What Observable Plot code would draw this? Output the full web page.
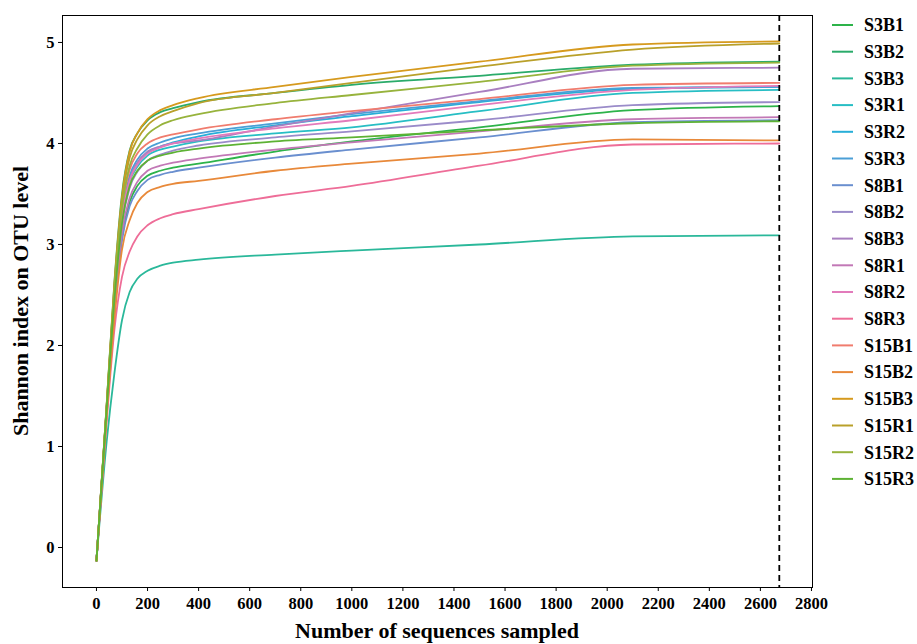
<!DOCTYPE html>
<html><head><meta charset="utf-8">
<script src="https://cdn.jsdelivr.net/npm/d3@7"></script>
<script src="https://cdn.jsdelivr.net/npm/@observablehq/plot@0.6"></script>
<style>
body{margin:0;background:#fff;}
#chart svg{font-family:"Liberation Serif","Times New Roman",serif;font-weight:bold;}
</style></head><body><div id="chart"></div>
<script>
const samples = ["S3B1","S3B2","S3B3","S3R1","S3R2","S3R3","S8B1","S8B2","S8B3","S8R1","S8R2","S8R3","S15B1","S15B2","S15B3","S15R1","S15R2","S15R3"];
const colors = ["#2db34a","#2aab6a","#2ab89a","#27bec4","#27aed8","#4b9fd6","#6a8fcf","#9a8bc9","#a97fc0","#c278b6","#e27bbb","#ee6d98","#f07c6e","#e8893a","#d69a1e","#b9a02a","#97b33c","#5db234"];
const depths = [0, 40, 70, 100, 130, 160, 200, 250, 300, 400, 700, 1000, 1500, 2100, 2674];
const maxDepth = 2674;
const xTicks = [0,200,400,600,800,1000,1200,1400,1600,1800,2000,2200,2400,2600,2800];
const yTicks = [0,1,2,3,4,5];
const xTitle = "Number of sequences sampled";
const yTitle = "Shannon index on OTU level";

const S3B1  = [-0.13, 1.33, 2.35, 3.08, 3.42, 3.58, 3.68, 3.73, 3.76, 3.80, 3.92, 4.02, 4.16, 4.33, 4.37];
const S3B2  = [-0.13, 1.42, 2.62, 3.50, 3.93, 4.10, 4.23, 4.31, 4.35, 4.41, 4.50, 4.58, 4.67, 4.78, 4.81];
const S3B3  = [-0.13, 1.05, 1.72, 2.25, 2.53, 2.66, 2.74, 2.79, 2.82, 2.85, 2.90, 2.94, 3.00, 3.08, 3.09];
const S3R1  = [-0.13, 1.38, 2.47, 3.25, 3.62, 3.77, 3.88, 3.94, 3.97, 4.02, 4.10, 4.16, 4.32, 4.50, 4.53];
const S3R2  = [-0.13, 1.38, 2.48, 3.27, 3.65, 3.80, 3.91, 3.97, 4.01, 4.07, 4.18, 4.27, 4.41, 4.54, 4.56];
const S3R3  = [-0.13, 1.39, 2.50, 3.30, 3.68, 3.84, 3.95, 4.01, 4.05, 4.10, 4.20, 4.29, 4.42, 4.55, 4.56];
const S8B1  = [-0.13, 1.32, 2.32, 3.04, 3.38, 3.53, 3.64, 3.69, 3.72, 3.76, 3.86, 3.94, 4.06, 4.21, 4.23];
const S8B2  = [-0.13, 1.36, 2.43, 3.20, 3.56, 3.72, 3.83, 3.89, 3.93, 3.98, 4.06, 4.12, 4.23, 4.38, 4.41];
const S8B3  = [-0.13, 1.38, 2.46, 3.25, 3.64, 3.81, 3.92, 3.97, 4.00, 4.03, 4.17, 4.30, 4.51, 4.74, 4.75];
const S8R1  = [-0.13, 1.34, 2.37, 3.12, 3.46, 3.62, 3.73, 3.78, 3.81, 3.85, 3.94, 4.01, 4.12, 4.24, 4.26];
const S8R2  = [-0.13, 1.38, 2.47, 3.25, 3.63, 3.79, 3.90, 3.96, 4.00, 4.05, 4.15, 4.23, 4.38, 4.53, 4.57];
const S8R3  = [-0.13, 1.25, 2.15, 2.68, 2.93, 3.08, 3.19, 3.26, 3.30, 3.35, 3.48, 3.58, 3.78, 3.99, 4.00];
const S15B1 = [-0.13, 1.40, 2.52, 3.35, 3.74, 3.90, 4.00, 4.06, 4.09, 4.14, 4.24, 4.32, 4.44, 4.58, 4.60];
const S15B2 = [-0.13, 1.30, 2.25, 2.95, 3.24, 3.41, 3.52, 3.57, 3.60, 3.63, 3.73, 3.80, 3.90, 4.04, 4.03];
const S15B3 = [-0.13, 1.41, 2.60, 3.47, 3.92, 4.10, 4.24, 4.33, 4.38, 4.45, 4.56, 4.66, 4.81, 4.98, 5.01];
const S15R1 = [-0.13, 1.41, 2.58, 3.43, 3.86, 4.04, 4.18, 4.27, 4.32, 4.40, 4.50, 4.60, 4.76, 4.93, 4.99];
const S15R2 = [-0.13, 1.40, 2.54, 3.37, 3.78, 3.95, 4.09, 4.18, 4.23, 4.29, 4.40, 4.48, 4.61, 4.77, 4.80];
const S15R3 = [-0.13, 1.37, 2.44, 3.21, 3.58, 3.73, 3.83, 3.88, 3.91, 3.95, 4.02, 4.06, 4.13, 4.20, 4.22];

const seriesValues = [S3B1,S3B2,S3B3,S3R1,S3R2,S3R3,S8B1,S8B2,S8B3,S8R1,S8R2,S8R3,S15B1,S15B2,S15B3,S15R1,S15R2,S15R3];

const rows = [];
samples.forEach((s, i) => depths.forEach((d, j) => rows.push({sample: s, x: d, y: seriesValues[i][j]})));

const W = 917, H = 644;
const mL = 62, mR = 105, mT = 15, mB = 57;
const FONT = "'Liberation Serif','Times New Roman',serif";

const chart = Plot.plot({
  width: W, height: H,
  marginLeft: mL, marginRight: mR, marginTop: mT, marginBottom: mB,
  style: {fontFamily: FONT, fontSize: "16.5px", fontWeight: "bold", background: "#fff"},
  x: {domain: [-133, 2804]},
  y: {domain: [-0.396, 5.267]},
  color: {domain: samples, range: colors},
  marks: [
    Plot.line(rows, {x: "x", y: "y", z: "sample", stroke: "sample", strokeWidth: 1.8, curve: "monotone-x"}),
    Plot.ruleX([maxDepth], {stroke: "black", strokeWidth: 1.8, strokeDasharray: "6,4"}),
    Plot.frame({stroke: "black", strokeWidth: 1}),
    Plot.axisX({ticks: xTicks, tickFormat: d3.format("d"), tickSize: 4, tickPadding: 6, fontSize: 16.5, fontWeight: "bold", label: null}),
    Plot.axisY({ticks: yTicks, tickFormat: d3.format("d"), tickSize: 4, tickPadding: 4, fontSize: 16.5, fontWeight: "bold", label: null})
  ]
});

document.getElementById("chart").appendChild(chart);

const svg = d3.select(chart.tagName.toLowerCase() === "svg" ? chart : chart.querySelector("svg"));

// axis titles
svg.append("text").attr("x", (mL + (W - mR)) / 2).attr("y", 638)
  .attr("text-anchor", "middle").style("font-family", FONT).style("font-weight", "bold").style("font-size", "22px")
  .attr("fill", "black").text(xTitle);
svg.append("text").attr("transform", `translate(28,${(mT + (H - mB)) / 2}) rotate(-90)`)
  .attr("text-anchor", "middle").style("font-family", FONT).style("font-weight", "bold").style("font-size", "22px")
  .attr("fill", "black").text(yTitle);

// legend
const lg = svg.append("g").attr("aria-label", "legend");
samples.forEach((s, i) => {
  const yy = 25 + i * 26.7;
  lg.append("line").attr("x1", 832).attr("x2", 853).attr("y1", yy).attr("y2", yy)
    .attr("stroke", colors[i]).attr("stroke-width", 2);
  lg.append("text").attr("x", 864).attr("y", yy).attr("dy", "0.35em").attr("text-anchor", "start")
    .style("font-family", FONT).style("font-weight", "bold").style("font-size", "18px").attr("fill", "black").text(s);
});
</script></body></html>
